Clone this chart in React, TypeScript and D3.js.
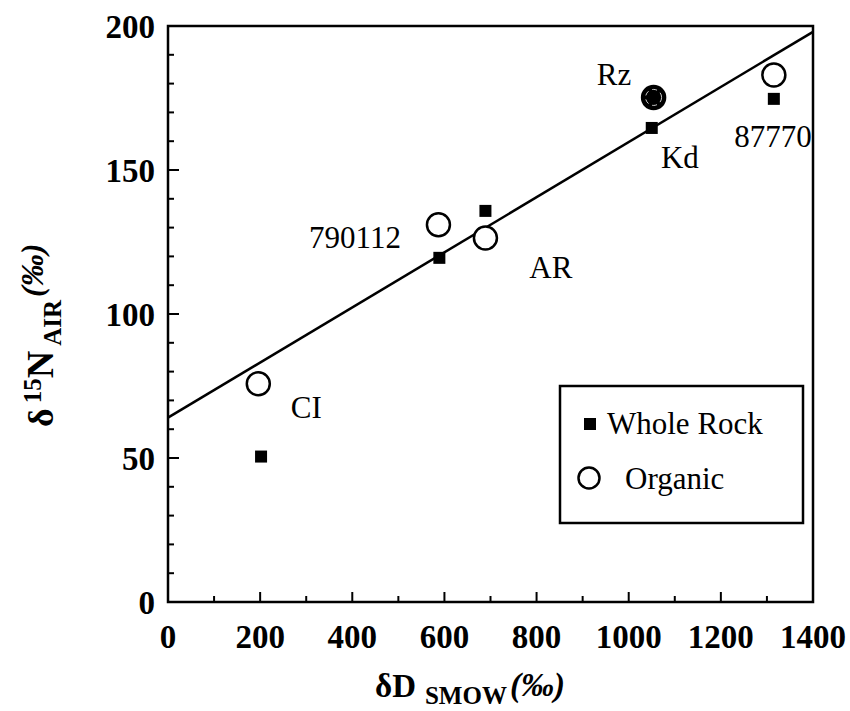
import React from "react";
import * as d3 from "d3";

const xTicks = [0, 200, 400, 600, 800, 1000, 1200, 1400];
const yTicks = [0, 50, 100, 150, 200];
const sampleNames = ["CI", "790112", "AR", "Kd", "Rz", "87770"];
const wholeRockX = [202, 589, 689, 1050, 1054, 1315];
const wholeRockY = [50.5, 119.5, 135.8, 164.6, 175.2, 174.7];
const organicNames = ["CI", "790112", "AR", "Rz", "87770"];
const organicX = [196, 587, 689, 1054, 1315];
const organicY = [75.8, 131, 126.4, 175.2, 183];
const fitIntercept = 64;
const fitSlope = 0.0957;
const labelNames = ["Rz", "Kd", "87770", "790112", "AR", "CI"];
const labelX = [968, 1111, 1313, 406, 831, 300];
const labelY = [179.5, 150.7, 158, 122.9, 112.5, 63.9];

export default function App() {
  const W = 850, H = 711;
  const x = d3.scaleLinear().domain([0, 1400]).range([168, 813]);
  const y = d3.scaleLinear().domain([0, 200]).range([602, 26]);
  const font = "'Liberation Serif', 'Times New Roman', serif";
  const xMinor = d3.range(0, 1401, 100);
  const yMinor = d3.range(0, 201, 10);
  const line = d3.line<number>().x((d) => x(d)).y((d) => y(fitIntercept + fitSlope * d));
  const sq = 12;
  const r = 11.5;
  return (
    <svg width={W} height={H} style={{ display: "block", position: "absolute", left: 0, top: 0, background: "#fff" }}>
      <rect x={0} y={0} width={W} height={H} fill="#fff" />
      <rect x={x(0)} y={y(200)} width={x(1400) - x(0)} height={y(0) - y(200)} fill="none" stroke="#000" strokeWidth={2.5} />
      {xMinor.map((t) => (
        <line key={"xm" + t} x1={x(t)} x2={x(t)} y1={y(0)} y2={y(0) - (t % 200 === 0 ? 10 : 6)} stroke="#000" strokeWidth={2} />
      ))}
      {yMinor.map((t) => (
        <line key={"ym" + t} y1={y(t)} y2={y(t)} x1={x(0)} x2={x(0) + (t % 50 === 0 ? 11 : 6)} stroke="#000" strokeWidth={2} />
      ))}
      {xTicks.map((t) => (
        <text key={"xt" + t} x={x(t)} y={648} textAnchor="middle" fontFamily={font} fontSize={33} fontWeight="bold">{t}</text>
      ))}
      {yTicks.map((t) => (
        <text key={"yt" + t} x={155} y={y(t) + 12} textAnchor="end" fontFamily={font} fontSize={33} fontWeight="bold">{t}</text>
      ))}
      <path d={line([0, 1400]) || ""} fill="none" stroke="#000" strokeWidth={2.5} />
      {organicX.map((v, i) => (
        <circle key={"o" + i} cx={x(v)} cy={y(organicY[i])} r={r} fill={organicNames[i] === "Rz" ? "#000" : "#fff"} stroke="#000" strokeWidth={2.5} data-name={organicNames[i]} />
      ))}
      {wholeRockX.map((v, i) => (
        <rect key={"w" + i} x={x(v) - sq / 2} y={y(wholeRockY[i]) - sq / 2} width={sq} height={sq} fill="#000" data-name={sampleNames[i]} />
      ))}
      {organicX.map((v, i) =>
        organicNames[i] === "Rz" ? (
          <circle key={"ring" + i} cx={x(v)} cy={y(organicY[i])} r={8} fill="none" stroke="#fff" strokeWidth={0.8} strokeDasharray="5 4" />
        ) : null
      )}
      {labelNames.map((n, i) => (
        <text key={"l" + n} x={x(labelX[i])} y={y(labelY[i])} textAnchor="middle" fontFamily={font} fontSize={31}>{n}</text>
      ))}
      <rect x={560} y={386} width={243} height={137} fill="#fff" stroke="#000" strokeWidth={2.5} />
      <rect x={584} y={418} width={12} height={12} fill="#000" />
      <text x={607} y={434} fontFamily={font} fontSize={31}>Whole Rock</text>
      <circle cx={589} cy={478} r={10.5} fill="#fff" stroke="#000" strokeWidth={2.5} />
      <text x={625} y={489} fontFamily={font} fontSize={31}>Organic</text>
      <text x={375} y={697} textAnchor="start" fontFamily={font} fontWeight="bold">
        <tspan fontSize={33}>δD</tspan>
        <tspan fontSize={25} dy={7} dx={9}>SMOW</tspan>
        <tspan fontSize={33} dy={-8} dx={3} fontStyle="italic">(‰)</tspan>
      </text>
      <text transform="translate(53,427) rotate(-90)" textAnchor="start" fontFamily={font} fontWeight="bold">
        <tspan fontSize={36}>δ</tspan>
        <tspan fontSize={25} dy={-12} dx={5}>15</tspan>
        <tspan fontSize={38} dy={12}>N</tspan>
        <tspan fontSize={25} dy={8} dx={5}>AIR</tspan>
        <tspan fontSize={32} dy={-18} dx={3} fontStyle="italic">(‰)</tspan>
      </text>
    </svg>
  );
}
